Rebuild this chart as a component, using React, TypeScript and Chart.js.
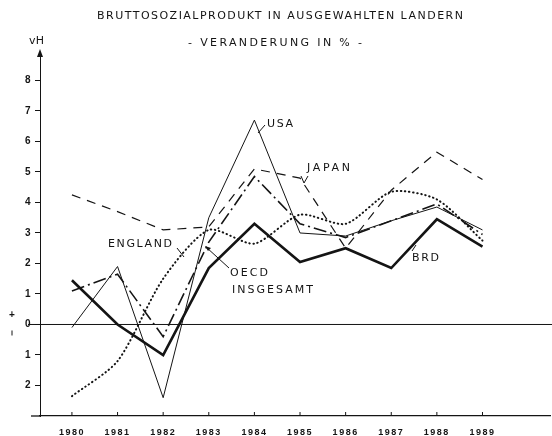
import React, { useEffect, useRef } from 'react';
import { Chart, registerables } from 'chart.js';

Chart.register(...registerables);

// ---- data ----
const years = [1980, 1981, 1982, 1983, 1984, 1985, 1986, 1987, 1988, 1989];
const usa = [-0.1, 1.9, -2.4, 3.5, 6.7, 3.0, 2.9, 3.4, 3.85, 3.1];
const japan = [4.25, 3.7, 3.1, 3.2, 5.1, 4.8, 2.5, 4.4, 5.65, 4.75];
const england = [-2.35, -1.2, 1.5, 3.1, 2.65, 3.6, 3.3, 4.35, 4.1, 2.75];
const oecd = [1.1, 1.65, -0.4, 2.7, 4.85, 3.3, 2.85, 3.4, 3.95, 2.95];
const brd = [1.45, 0.0, -1.0, 1.85, 3.3, 2.05, 2.5, 1.85, 3.45, 2.55];
const yTicks = [-2, -1, 0, 1, 2, 3, 4, 5, 6, 7, 8];

const titleText = 'BRUTTOSOZIALPRODUKT IN AUSGEWAHLTEN LANDERN';
const subtitleText = '- VERANDERUNG IN % -';
const unitText = 'vH';

const INK = '#141414';
const FONT = '"Liberation Sans", Arial, sans-serif';
const LABEL_FONT = '"DejaVu Sans", sans-serif';

function spaced(ctx: CanvasRenderingContext2D, text: string, x: number, y: number, w: number) {
  (ctx as any).letterSpacing = '0px';
  const m = ctx.measureText(text).width;
  const sp = text.length > 1 ? Math.max(0, (w - m) / (text.length - 1)) : 0;
  (ctx as any).letterSpacing = sp.toFixed(2) + 'px';
  ctx.textAlign = 'left';
  ctx.textBaseline = 'middle';
  ctx.fillText(text, x, y);
  (ctx as any).letterSpacing = '0px';
}

function line(ctx: CanvasRenderingContext2D, pts: number[][], w = 1) {
  ctx.beginPath();
  ctx.lineWidth = w;
  ctx.moveTo(pts[0][0], pts[0][1]);
  for (let i = 1; i < pts.length; i++) ctx.lineTo(pts[i][0], pts[i][1]);
  ctx.stroke();
}

const decorPlugin = {
  id: 'decor',
  beforeDraw(chart: any) {
    (chart.ctx as any).letterSpacing = '1.5px';
  },
  beforeDatasetsDraw(chart: any) {
    (chart.ctx as any).letterSpacing = '0px';
  },
  afterDraw(chart: any) {
    const ctx: CanvasRenderingContext2D = chart.ctx;
    const xs = chart.scales.x;
    const ys = chart.scales.y;
    const left = chart.chartArea.left;
    const bottom = chart.chartArea.bottom;
    const top = chart.chartArea.top;
    ctx.save();
    (ctx as any).letterSpacing = '0px';
    ctx.strokeStyle = INK;
    ctx.fillStyle = INK;
    ctx.setLineDash([]);

    // zero line
    const y0 = ys.getPixelForValue(0);
    line(ctx, [[28, y0], [552, y0]], 1);
    // x-axis extension to the left
    line(ctx, [[31, bottom], [left, bottom]], 1.3);
    // x tick marks (inward)
    years.forEach((yr) => {
      const px = xs.getPixelForValue(yr);
      line(ctx, [[px, bottom - 4], [px, bottom]], 1);
    });
    // arrow on y axis
    ctx.beginPath();
    ctx.moveTo(left, top - 4);
    ctx.lineTo(left - 3, top + 4);
    ctx.lineTo(left + 3, top + 4);
    ctx.closePath();
    ctx.fill();

    // + / - signs
    ctx.font = 'bold 10px ' + FONT;
    ctx.textAlign = 'center';
    ctx.textBaseline = 'middle';
    ctx.fillText('+', 12, y0 - 9);
    line(ctx, [[12, y0 + 6], [12, y0 + 11]], 1);

    // titles
    ctx.font = '11px ' + LABEL_FONT;
    spaced(ctx, titleText, 97, 16, 366);
    spaced(ctx, subtitleText, 188, 43, 174);
    spaced(ctx, unitText, 29, 41, 15);

    // series labels
    ctx.font = '11px ' + LABEL_FONT;
    spaced(ctx, 'USA', 267, 124, 26);
    spaced(ctx, 'JAPAN', 307, 168, 43);
    spaced(ctx, 'ENGLAND', 108, 244, 64);
    spaced(ctx, 'OECD', 230, 273, 38);
    spaced(ctx, 'INSGESAMT', 232, 290, 81);
    spaced(ctx, 'BRD', 412, 258, 27);

    // leader lines
    line(ctx, [[258, 133], [265, 125]], 1);
    line(ctx, [[301, 176], [304, 183], [308, 176]], 1);
    line(ctx, [[177, 248], [184, 257]], 1);
    line(ctx, [[229, 268], [206, 247]], 1);
    ctx.beginPath();
    ctx.moveTo(205, 246);
    ctx.lineTo(211, 248);
    ctx.lineTo(208, 251);
    ctx.closePath();
    ctx.fill();
    line(ctx, [[412, 251], [416, 245]], 1);
    ctx.restore();
  },
};

function toPoints(vals: number[]) {
  return years.map((yr, i) => ({ x: yr, y: vals[i] }));
}

export default function App() {
  const ref = useRef<HTMLCanvasElement | null>(null);
  useEffect(() => {
    if (!ref.current) return;
    const chart = new Chart(ref.current, {
      type: 'line',
      data: {
        datasets: [
          {
            label: 'ENGLAND',
            data: toPoints(england),
            borderColor: INK,
            borderWidth: 2,
            borderDash: [0.5, 3.6],
            borderCapStyle: 'round',
            tension: 0.25,
            pointRadius: 0,
          },
          {
            label: 'JAPAN',
            data: toPoints(japan),
            borderColor: INK,
            borderWidth: 1.2,
            borderDash: [9, 7],
            tension: 0,
            pointRadius: 0,
          },
          {
            label: 'OECD INSGESAMT',
            data: toPoints(oecd),
            borderColor: INK,
            borderWidth: 1.6,
            borderDash: [13, 4, 2, 4],
            tension: 0,
            pointRadius: 0,
          },
          {
            label: 'USA',
            data: toPoints(usa),
            borderColor: INK,
            borderWidth: 1,
            tension: 0,
            pointRadius: 0,
          },
          {
            label: 'BRD',
            data: toPoints(brd),
            borderColor: INK,
            borderWidth: 2.6,
            tension: 0,
            pointRadius: 0,
          },
        ],
      } as any,
      options: {
        responsive: false,
        animation: false,
        devicePixelRatio: 1,
        layout: { padding: { top: 53, right: 2, left: 0, bottom: 0 } },
        plugins: {
          legend: { display: false },
          tooltip: { enabled: false },
          title: { display: false },
        },
        scales: {
          x: {
            type: 'linear',
            min: 1979.3,
            max: 1990.48,
            afterBuildTicks: (s: any) => {
              s.ticks = years.map((v) => ({ value: v }));
            },
            afterFit: (s: any) => {
              s.height = 20;
            },
            grid: { display: false, drawTicks: false },
            border: { display: true, color: INK, width: 1.3 },
            ticks: {
              color: INK,
              font: { family: FONT, size: 9, weight: 'bold' },
              padding: 11,
              maxRotation: 0,
              autoSkip: false,
              callback: (v: any) => String(v),
            },
          },
          y: {
            type: 'linear',
            min: -3,
            max: 8.9,
            afterBuildTicks: (s: any) => {
              s.ticks = yTicks.map((v) => ({ value: v }));
            },
            afterFit: (s: any) => {
              s.width = 40;
            },
            grid: {
              display: true,
              drawOnChartArea: false,
              drawTicks: true,
              tickLength: 5,
              tickColor: INK,
            },
            border: { display: true, color: INK, width: 1 },
            ticks: {
              color: INK,
              font: { family: FONT, size: 10, weight: 'bold' },
              padding: 3,
              callback: (v: any) => String(Math.abs(Number(v))),
            },
          },
        },
      } as any,
      plugins: [decorPlugin],
    });
    return () => chart.destroy();
  }, []);
  return (
    <div style={{ position: 'absolute', left: 0, top: 0, width: 552, height: 436, background: '#fff' }}>
      <canvas ref={ref} width={552} height={436} />
    </div>
  );
}
